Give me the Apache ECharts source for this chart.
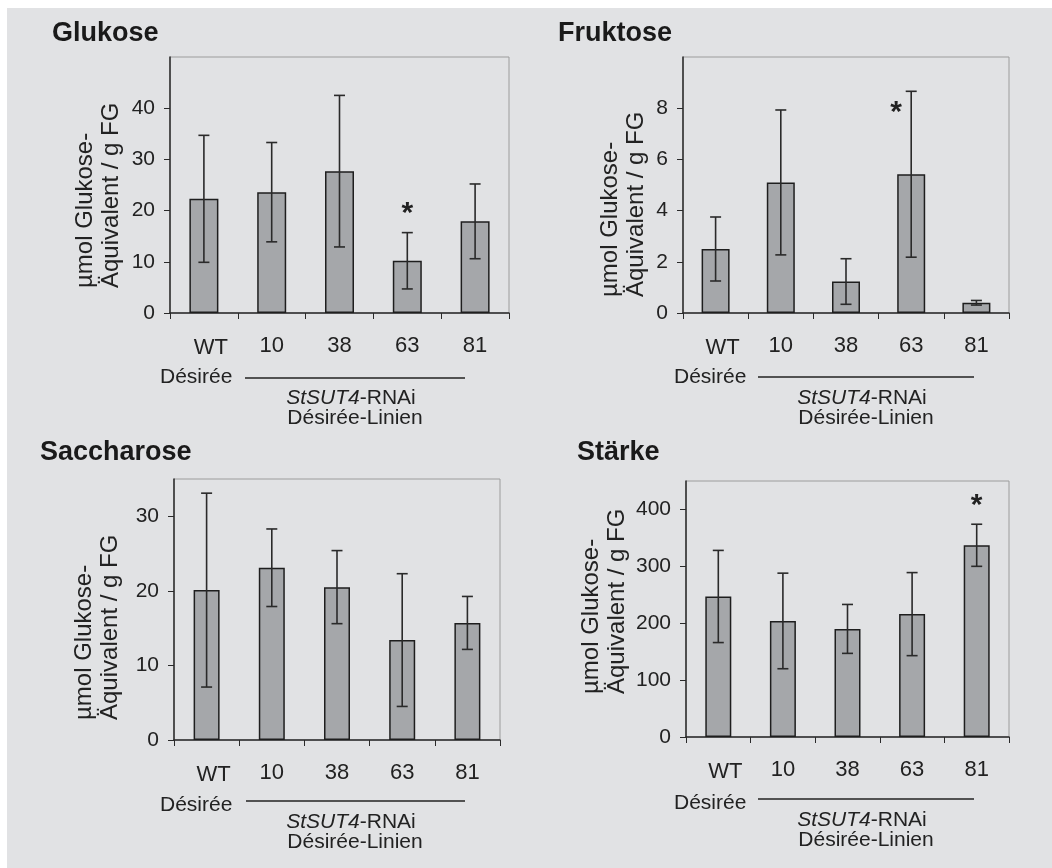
<!DOCTYPE html>
<html>
<head>
<meta charset="utf-8">
<script src="https://cdn.jsdelivr.net/npm/echarts@6/dist/echarts.min.js"></script>
<style>
html,body{margin:0;padding:0;background:#ffffff;}
#chart{width:1052px;height:868px;}
</style>
</head>
<body>
<div id="chart"></div>
<script>
// ---- data ----
const categories = ['WT', '10', '38', '63', '81'];

const glukoseMean = [22.3, 23.6, 27.7, 10.2, 17.9];
const glukoseSD   = [12.4, 9.7, 14.8, 5.5, 7.3];

const fruktoseMean = [2.5, 5.1, 1.23, 5.42, 0.4];
const fruktoseSD   = [1.25, 2.83, 0.89, 3.24, 0.09];

const saccharoseMean = [20.1, 23.1, 20.5, 13.4, 15.7];
const saccharoseSD   = [13.0, 5.2, 4.9, 8.9, 3.55];

const staerkeMean = [247, 204, 190, 216, 337];
const staerkeSD   = [81, 84, 43, 73, 37];

// significance stars: [category, value]
const glukoseStars  = [['63', 20.3]];
const fruktoseStars = [['63', 8.0]];
const saccharoseStars = [];
const staerkeStars  = [['81', 416]];

const yTicksGlukose = {max: 50, interval: 10};
const yTicksFruktose = {max: 10, interval: 2};
const yTicksSaccharose = {max: 35, interval: 10};
const yTicksStaerke = {max: 450, interval: 100};

const titles = ['Glukose', 'Fruktose', 'Saccharose', 'Stärke'];
const yNameLines = ['µmol Glukose-', 'Äquivalent / g FG'];

// ---- layout / style ----
const FONT = 'Liberation Sans, Arial, Helvetica, sans-serif';
const DARK = '#2a2a2a';
const BAR = '#a5a7aa';
const BG = '#e1e2e4';

const panels = [
  {mean: glukoseMean, sd: glukoseSD, stars: glukoseStars, ticks: yTicksGlukose,
   grid: {left: 170, top: 57, width: 339, height: 256}, barWidth: 29, starDx: 0,
   title: [52, 34], yname: [98, 288], group: {des: [160, 377], line: [245, 465, 378], sub: [351, 398], lin: [355, 418]}},
  {mean: fruktoseMean, sd: fruktoseSD, stars: fruktoseStars, ticks: yTicksFruktose,
   grid: {left: 683, top: 57, width: 326, height: 256}, barWidth: 28, starDx: -15,
   title: [558, 34], yname: [623, 297], group: {des: [674, 377], line: [758, 974, 377], sub: [862, 398], lin: [866, 418]}},
  {mean: saccharoseMean, sd: saccharoseSD, stars: saccharoseStars, ticks: yTicksSaccharose,
   grid: {left: 174, top: 479, width: 326, height: 261}, barWidth: 26, starDx: 0,
   title: [40, 453], yname: [97, 720], group: {des: [160, 805], line: [246, 465, 801], sub: [351, 822], lin: [355, 842]}},
  {mean: staerkeMean, sd: staerkeSD, stars: staerkeStars, ticks: yTicksStaerke,
   grid: {left: 686, top: 481, width: 323, height: 256}, barWidth: 26, starDx: 0,
   title: [577, 453], yname: [604, 694], group: {des: [674, 803], line: [758, 974, 799], sub: [862, 820], lin: [866, 840]}}
];

const grids = [], xAxes = [], yAxes = [], series = [];
const graphics = [
  {type: 'rect', shape: {x: 7, y: 8, width: 1045, height: 860}, style: {fill: BG}, z: -10, silent: true}
];

panels.forEach((p, i) => {
  grids.push(Object.assign({show: true, borderColor: '#9c9c9c', borderWidth: 1, backgroundColor: 'transparent'}, p.grid));
  xAxes.push({
    type: 'category', gridIndex: i, data: categories, boundaryGap: true,
    axisLine: {lineStyle: {color: DARK, width: 1.5}},
    axisTick: {show: true, alignWithLabel: false, interval: 0, length: 6, lineStyle: {color: DARK, width: 1}},
    axisLabel: {
      interval: 0,
      color: '#222', fontSize: 22, fontFamily: FONT, margin: 22,
      formatter: v => v === 'WT' ? '{wt|WT}' : v,
      rich: {wt: {fontSize: 22, fontFamily: FONT, color: '#222', padding: [2, 0, 0, 14]}}
    },
    splitLine: {show: false}
  });
  yAxes.push({
    type: 'value', gridIndex: i, min: 0, max: p.ticks.max, interval: p.ticks.interval,
    axisLine: {show: true, lineStyle: {color: DARK, width: 1.5}},
    axisTick: {show: true, length: 6, lineStyle: {color: DARK, width: 1}},
    axisLabel: {color: '#222', fontSize: 21, fontFamily: FONT, margin: 15, showMaxLabel: false},
    splitLine: {show: false}
  });
  series.push({
    type: 'bar', xAxisIndex: i, yAxisIndex: i, data: p.mean, barWidth: p.barWidth,
    itemStyle: {color: BAR, borderColor: '#1e1e1e', borderWidth: 1.5},
    silent: true, z: 2
  });
  series.push({
    type: 'custom', xAxisIndex: i, yAxisIndex: i, z: 5, silent: true,
    data: p.mean.map((m, k) => [k, m, p.sd[k]]),
    renderItem: (params, api) => {
      const x = api.value(0), m = api.value(1), s = api.value(2);
      const t = api.coord([x, m + s]);
      const b = api.coord([x, m - s]);
      const hw = 5.5;
      const st = {stroke: DARK, lineWidth: 1.6};
      return {type: 'group', children: [
        {type: 'line', shape: {x1: t[0], y1: t[1], x2: b[0], y2: b[1]}, style: st},
        {type: 'line', shape: {x1: t[0] - hw, y1: t[1], x2: t[0] + hw, y2: t[1]}, style: st},
        {type: 'line', shape: {x1: b[0] - hw, y1: b[1], x2: b[0] + hw, y2: b[1]}, style: st}
      ]};
    }
  });
  if (p.stars.length) {
    series.push({
      type: 'custom', xAxisIndex: i, yAxisIndex: i, z: 6, silent: true,
      data: p.stars.map(s => [categories.indexOf(s[0]), s[1]]),
      renderItem: (params, api) => {
        const pt = api.coord([api.value(0), api.value(1)]);
        return {type: 'text', x: pt[0] + p.starDx, y: pt[1] + 5,
          style: {text: '*', fontSize: 30, fontWeight: 'bold', fontFamily: FONT, fill: '#222',
                  align: 'center', verticalAlign: 'middle'}};
      }
    });
  }
  // title
  graphics.push({type: 'text', x: p.title[0], y: p.title[1],
    style: {text: titles[i], fontSize: 27, fontWeight: 'bold', fontFamily: FONT, fill: '#1a1a1a',
            align: 'left', verticalAlign: 'middle'}});
  // y axis name (rotated, two lines)
  graphics.push({type: 'text', x: p.yname[0], y: p.yname[1], rotation: Math.PI / 2,
    style: {text: yNameLines.join('\n'), fontSize: 24, fontFamily: FONT, fill: '#222',
            align: 'left', verticalAlign: 'middle', lineHeight: 26}});
  // group labels
  const g = p.group;
  graphics.push({type: 'text', x: g.des[0], y: g.des[1],
    style: {text: 'Désirée', fontSize: 21, fontFamily: FONT, fill: '#222', align: 'left', verticalAlign: 'middle'}});
  graphics.push({type: 'line', shape: {x1: g.line[0], y1: g.line[2], x2: g.line[1], y2: g.line[2]},
    style: {stroke: '#222', lineWidth: 1.5}});
  graphics.push({type: 'text', x: g.sub[0], y: g.sub[1],
    style: {text: '{i|StSUT4}-RNAi', fontSize: 21, fontFamily: FONT, fill: '#222', align: 'center', verticalAlign: 'middle',
            rich: {i: {fontStyle: 'italic', fontSize: 21, fontFamily: FONT, fill: '#222'}}}});
  graphics.push({type: 'text', x: g.lin[0], y: g.lin[1],
    style: {text: 'Désirée-Linien', fontSize: 21, fontFamily: FONT, fill: '#222', align: 'center', verticalAlign: 'middle'}});
});

const chart = echarts.init(document.getElementById('chart'), null, {renderer: 'canvas'});
chart.setOption({
  backgroundColor: '#ffffff',
  animation: false,
  grid: grids,
  xAxis: xAxes,
  yAxis: yAxes,
  series: series,
  graphic: graphics
});
</script>
</body>
</html>
